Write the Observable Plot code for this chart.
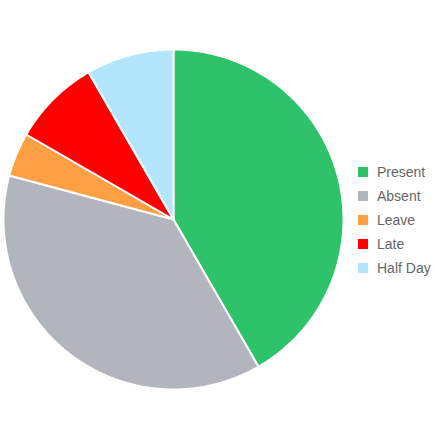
<!DOCTYPE html>
<html>
<head>
<meta charset="utf-8">
<script src="https://cdn.jsdelivr.net/npm/d3@7"></script>
<script src="https://cdn.jsdelivr.net/npm/@observablehq/plot@0.6"></script>
<style>
  html, body { margin: 0; padding: 0; background: #fff; }
  #wrap { position: relative; width: 441px; height: 441px; }
  #legend { position: absolute; left: 357px; top: 160px; font-family: "Liberation Sans", Arial, sans-serif; font-size: 14px; color: #666; }
  .row { display: flex; align-items: center; height: 24px; }
  .sw { width: 12px; height: 12px; margin-right: 8px; box-sizing: border-box; border: 1px solid #fff; }
</style>
</head>
<body>
<div id="wrap"></div>
<script>
const categories = ["Present", "Absent", "Leave", "Late", "Half Day"];
const values = [10, 9, 1, 2, 2];
const colors = ["#2ec26a", "#b2b5be", "#ff9f43", "#ff0000", "#b3e5fc"];

const W = 441, H = 441, cx = 173, cy = 219, R = 170;

const arcs = d3.pie().sort(null).value(d => d.value)(
  categories.map((c, i) => ({category: c, value: values[i]}))
);

// build slice outlines in unit-circle coordinates (angle clockwise from top)
const pts = [];
arcs.forEach(a => {
  const cat = a.data.category;
  pts.push({category: cat, x: 0, y: 0});
  const n = Math.max(2, Math.ceil((a.endAngle - a.startAngle) / (Math.PI / 360)));
  for (let k = 0; k <= n; k++) {
    const t = a.startAngle + (a.endAngle - a.startAngle) * k / n;
    pts.push({category: cat, x: Math.sin(t), y: Math.cos(t)});
  }
  pts.push({category: cat, x: 0, y: 0});
});

const chart = Plot.plot({
  width: W, height: H,
  margin: 0,
  x: {domain: [-cx / R, (W - cx) / R], axis: null},
  y: {domain: [(cy - H) / R, cy / R], axis: null},
  color: {domain: categories, range: colors},
  marks: [
    Plot.line(pts, {x: "x", y: "y", z: "category", fill: "category", stroke: "#fff", strokeWidth: 2, strokeLinejoin: "round", curve: "linear"})
  ]
});
document.getElementById("wrap").appendChild(chart);

const legend = document.createElement("div");
legend.id = "legend";
categories.forEach((c, i) => {
  const row = document.createElement("div");
  row.className = "row";
  const sw = document.createElement("div");
  sw.className = "sw";
  sw.style.background = colors[i];
  const lab = document.createElement("span");
  lab.textContent = c;
  row.appendChild(sw); row.appendChild(lab);
  legend.appendChild(row);
});
document.getElementById("wrap").appendChild(legend);
</script>
</body>
</html>
